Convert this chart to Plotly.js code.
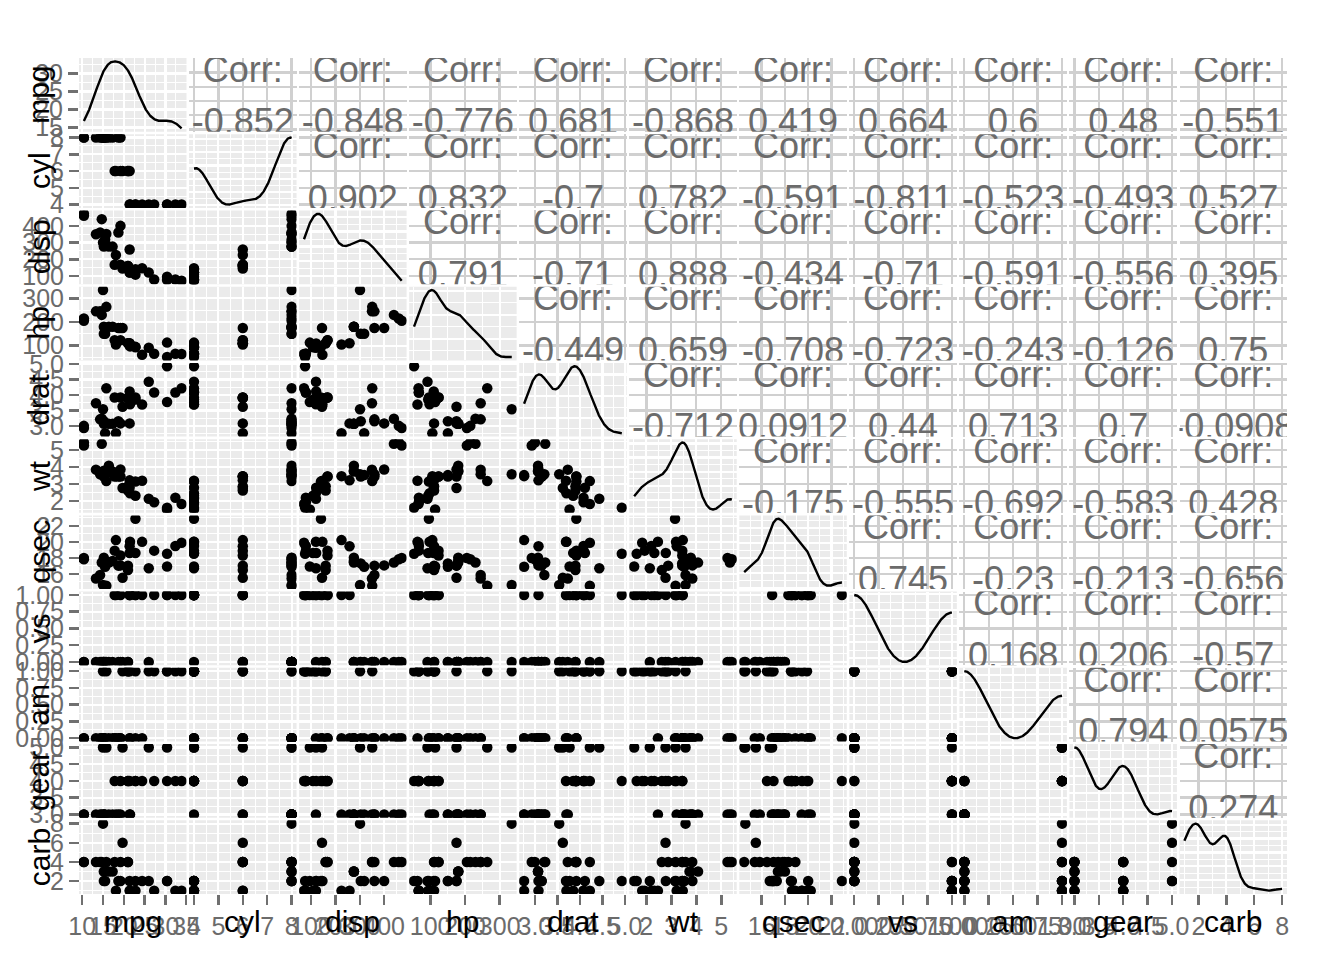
<!DOCTYPE html>
<html><head><meta charset="utf-8">
<script src="https://cdn.plot.ly/plotly-3.0.1.min.js"></script>
<style>html,body{margin:0;padding:0;background:#fff}</style>
</head><body><div id="chart" style="width:1344px;height:960px"></div>
<script>
// ---- data (mtcars) ----
const variables = ["mpg","cyl","disp","hp","drat","wt","qsec","vs","am","gear","carb"];
const mpg  = [21.0,21.0,22.8,21.4,18.7,18.1,14.3,24.4,22.8,19.2,17.8,16.4,17.3,15.2,10.4,10.4,14.7,32.4,30.4,33.9,21.5,15.5,15.2,13.3,19.2,27.3,26.0,30.4,15.8,19.7,15.0,21.4];
const cyl  = [6,6,4,6,8,6,8,4,4,6,6,8,8,8,8,8,8,4,4,4,4,8,8,8,8,4,4,4,8,6,8,4];
const disp = [160,160,108,258,360,225,360,146.7,140.8,167.6,167.6,275.8,275.8,275.8,472,460,440,78.7,75.7,71.1,120.1,318,304,350,400,79,120.3,95.1,351,145,301,121];
const hp   = [110,110,93,110,175,105,245,62,95,123,123,180,180,180,205,215,230,66,52,65,97,150,150,245,175,66,91,113,264,175,335,109];
const drat = [3.90,3.90,3.85,3.08,3.15,2.76,3.21,3.69,3.92,3.92,3.92,3.07,3.07,3.07,2.93,3.00,3.23,4.08,4.93,4.22,3.70,2.76,3.15,3.73,3.08,4.08,4.43,3.77,4.22,3.62,3.54,4.11];
const wt   = [2.620,2.875,2.320,3.215,3.440,3.460,3.570,3.190,3.150,3.440,3.440,4.070,3.730,3.780,5.250,5.424,5.345,2.200,1.615,1.835,2.465,3.520,3.435,3.840,3.845,1.935,2.140,1.513,3.170,2.770,3.570,2.780];
const qsec = [16.46,17.02,18.61,19.44,17.02,20.22,15.84,20.00,22.90,18.30,18.90,17.40,17.60,18.00,17.98,17.82,17.42,19.47,18.52,19.90,20.01,16.87,17.30,15.41,17.05,18.90,16.70,16.90,14.50,15.50,14.60,18.60];
const vs   = [0,0,1,1,0,1,0,1,1,1,1,0,0,0,0,0,0,1,1,1,1,0,0,0,0,1,0,1,0,0,0,1];
const am   = [1,1,1,0,0,0,0,0,0,0,0,0,0,0,0,0,0,1,1,1,0,0,0,0,0,1,1,1,1,1,1,1];
const gear = [4,4,4,3,3,3,3,4,4,4,4,3,3,3,3,3,3,4,4,4,3,3,3,3,3,4,5,5,5,5,5,4];
const carb = [4,4,1,1,2,1,4,2,2,4,4,3,3,3,4,4,4,1,2,1,1,2,2,4,2,1,2,2,4,6,8,2];

// tick labels (ggplot breaks)
const mpgTicks  = ["10","15","20","25","30","35"];
const cylTicks  = ["4","5","6","7","8"];
const dispTicks = ["100","200","300","400"];
const hpTicks   = ["100","200","300"];
const dratTicks = ["3.0","3.5","4.0","4.5","5.0"];
const wtTicks   = ["2","3","4","5"];
const qsecTicks = ["16","18","20","22"];
const vsTicks   = ["0.00","0.25","0.50","0.75","1.00"];
const amTicks   = ["0.00","0.25","0.50","0.75","1.00"];
const gearTicks = ["3.0","3.5","4.0","4.5","5.0"];
const carbTicks = ["2","4","6","8"];
const mpgDiagLabels = ["15","20","25","30"];

// correlation labels, upper triangle, row by row
const corrRow1  = ["-0.852","-0.848","-0.776","0.681","-0.868","0.419","0.664","0.6","0.48","-0.551"];
const corrRow2  = ["0.902","0.832","-0.7","0.782","-0.591","-0.811","-0.523","-0.493","0.527"];
const corrRow3  = ["0.791","-0.71","0.888","-0.434","-0.71","-0.591","-0.556","0.395"];
const corrRow4  = ["-0.449","0.659","-0.708","-0.723","-0.243","-0.126","0.75"];
const corrRow5  = ["-0.712","0.0912","0.44","0.713","0.7","-0.0908"];
const corrRow6  = ["-0.175","-0.555","-0.692","-0.583","0.428"];
const corrRow7  = ["0.745","-0.23","-0.213","-0.656"];
const corrRow8  = ["0.168","0.206","-0.57"];
const corrRow9  = ["0.794","0.0575"];
const corrRow10 = ["0.274"];

// ---- assembly ----
const cols = [mpg,cyl,disp,hp,drat,wt,qsec,vs,am,gear,carb];
const tickLists = [mpgTicks,cylTicks,dispTicks,hpTicks,dratTicks,wtTicks,qsecTicks,vsTicks,amTicks,gearTicks,carbTicks];
const corrRows = [corrRow1,corrRow2,corrRow3,corrRow4,corrRow5,corrRow6,corrRow7,corrRow8,corrRow9,corrRow10];
const N = variables.length;

const FONT = "Liberation Sans, Arial, Helvetica, sans-serif";
const PW = 1208, PH = 836, GX = 2.55, GY = 2.54;
const TICKCOL = "#707070", LABCOL = "#6B6B6B", PANEL = "#EBEBEB", UGRID = "#D0D0D0";
const TICKSIZE = 25, TITLESIZE = 30, CORRSIZE = 36;

function colDomain(j){ const p=(PW+GX)/N; return [j*p/PW, Math.min(1,(j*p+p-GX)/PW)]; }
function rowDomain(i){ const p=(PH+GY)/N; const top=PH-i*p; return [Math.max(0,(top-(p-GY))/PH), top/PH]; }
function expand(lo,hi){ const d=hi-lo; return [lo-0.05*d, hi+0.05*d]; }
function rangeOf(v){ return expand(Math.min(...v), Math.max(...v)); }
function mids(vals){ const s=vals[1]-vals[0]; const out=[vals[0]-s/2]; vals.forEach(v=>out.push(v+s/2)); return out; }

// density (stat_density: gaussian kernel, bw.nrd0, 512 points over data range)
function quant(sorted,p){ const h=(sorted.length-1)*p, lo=Math.floor(h); const hi=Math.min(lo+1,sorted.length-1); return sorted[lo]+(h-lo)*(sorted[hi]-sorted[lo]); }
function bwNrd0(x){
  const n=x.length, m=x.reduce((a,b)=>a+b,0)/n;
  const sd=Math.sqrt(x.reduce((a,b)=>a+(b-m)*(b-m),0)/(n-1));
  const s=[...x].sort((a,b)=>a-b); const iqr=quant(s,0.75)-quant(s,0.25);
  let lo=Math.min(sd, iqr/1.34); if(!(lo>0)) lo = sd || Math.abs(x[0]) || 1;
  return 0.9*lo*Math.pow(n,-0.2);
}
function density(x){
  const b=bwNrd0(x), n=x.length, mn=Math.min(...x), mx=Math.max(...x);
  const gx=[], gy=[];
  for(let k=0;k<512;k++){
    const t=mn+(mx-mn)*k/511; let s=0;
    for(const xi of x){ const z=(t-xi)/b; s+=Math.exp(-0.5*z*z); }
    gx.push(t); gy.push(s/(n*b*Math.sqrt(2*Math.PI)));
  }
  return {x:gx,y:gy};
}
function niceStep(span){
  const raw=span/4, mag=Math.pow(10,Math.floor(Math.log10(raw))), r=raw/mag;
  const m = r<1.5?1:(r<3?2:(r<7?5:10)); return m*mag;
}

const traces=[], shapes=[], annotations=[];
const layout = {
  width:1344, height:960, showlegend:false,
  margin:{l:79,r:57,t:58,b:66,pad:0},
  paper_bgcolor:"#ffffff", plot_bgcolor:"#ffffff",
  font:{family:FONT, color:LABCOL},
  hovermode:false
};

const ranges = cols.map(rangeOf);

// column x axes (lower + diagonal): x1..x11
for(let j=0;j<N;j++){
  const tv = tickLists[j].map(Number);
  layout["xaxis"+(j+1)] = {
    domain: colDomain(j), range: ranges[j], anchor:"free", position:0,
    tickmode:"array", tickvals: tv, ticktext: tickLists[j], tickangle:0,
    ticks:"outside", ticklen:10, tickwidth:2.5, tickcolor:TICKCOL,
    tickfont:{size:TICKSIZE, color:LABCOL, family:FONT},
    showgrid:true, gridcolor:"#ffffff", gridwidth:2.2,
    minor:{tickmode:"array", tickvals: mids(tv), showgrid:true, gridcolor:"#ffffff", gridwidth:1},
    zeroline:false, showline:false, fixedrange:true
  };
}
// upper x axes: x12..x21 (columns 2..11)
for(let j=1;j<N;j++){
  const tv = tickLists[j].map(Number);
  layout["xaxis"+(10+j+1)] = {
    domain: colDomain(j), range: ranges[j], anchor:"free", position:0,
    tickmode:"array", tickvals: tv, showticklabels:false, ticks:"",
    showgrid:true, gridcolor:UGRID, gridwidth:2.4,
    zeroline:false, showline:false, fixedrange:true
  };
}
// lower row y axes: y12..y21 (rows 2..11)
for(let i=1;i<N;i++){
  const tv = tickLists[i].map(Number);
  layout["yaxis"+(11+i)] = {
    domain: rowDomain(i), range: ranges[i], anchor:"free", position:0,
    tickmode:"array", tickvals: tv, ticktext: tickLists[i], tickangle:0,
    ticks:"outside", ticklen:10, tickwidth:2.5, tickcolor:TICKCOL,
    tickfont:{size:TICKSIZE, color:LABCOL, family:FONT},
    showgrid:true, gridcolor:"#ffffff", gridwidth:2.2,
    minor:{tickmode:"array", tickvals: mids(tv), showgrid:true, gridcolor:"#ffffff", gridwidth:1},
    zeroline:false, showline:false, fixedrange:true
  };
}
// upper row y axes: y22..y31 (rows 1..10)
for(let i=0;i<N-1;i++){
  const tv = tickLists[i].map(Number);
  layout["yaxis"+(22+i)] = {
    domain: rowDomain(i), range: ranges[i], anchor:"free", position:0,
    tickmode:"array", tickvals: tv, showticklabels:false, ticks:"",
    showgrid:true, gridcolor:UGRID, gridwidth:2.4,
    zeroline:false, showline:false, fixedrange:true
  };
}
// diagonal density y axes: y1..y11
for(let i=0;i<N;i++){
  const d = density(cols[i]);
  const dr = expand(Math.min(...d.y), Math.max(...d.y));
  const ax = {
    domain: rowDomain(i), range: dr, anchor:"x"+(i+1),
    showgrid:true, gridcolor:"#ffffff", gridwidth:2.2,
    zeroline:false, showline:false, fixedrange:true
  };
  if(i===0){
    // left labels of the top-left panel show the mpg scale on the density panel
    const a=13.83, b=34.29;
    const lv = mpgDiagLabels.map(Number);
    const tv = lv.map(v => dr[0] + (v-a)/(b-a)*(dr[1]-dr[0]));
    Object.assign(ax, {tickmode:"array", tickvals: tv, ticktext: mpgDiagLabels, tickangle:0,
      ticks:"outside", ticklen:10, tickwidth:2.5, tickcolor:TICKCOL,
      tickfont:{size:TICKSIZE, color:LABCOL, family:FONT},
      minor:{tickmode:"array", tickvals: mids(tv), showgrid:true, gridcolor:"#ffffff", gridwidth:1}});
  } else {
    const st = niceStep(dr[1]-dr[0]);
    const tv=[]; for(let v=Math.ceil(dr[0]/st)*st; v<=dr[1]; v+=st) tv.push(v);
    Object.assign(ax, {tickmode:"array", tickvals: tv, showticklabels:false, ticks:"",
      minor:{tickmode:"array", tickvals: mids(tv.length>1?tv:[tv[0],tv[0]+st]), showgrid:true, gridcolor:"#ffffff", gridwidth:1}});
  }
  layout["yaxis"+(i+1)] = ax;
  traces.push({type:"scatter", mode:"lines", x:d.x, y:d.y, xaxis:"x"+(i+1), yaxis:"y"+(i+1),
    line:{color:"#000000", width:2.4}, hoverinfo:"skip"});
  shapes.push({type:"rect", xref:"x"+(i+1)+" domain", yref:"y"+(i+1)+" domain", x0:0,x1:1,y0:0,y1:1,
    fillcolor:PANEL, line:{width:0}, layer:"below"});
}
// lower scatter panels
for(let i=1;i<N;i++){
  for(let j=0;j<i;j++){
    traces.push({type:"scatter", mode:"markers", x:cols[j], y:cols[i], xaxis:"x"+(j+1), yaxis:"y"+(11+i),
      marker:{color:"#000000", size:10.5, line:{width:0}}, hoverinfo:"skip"});
    shapes.push({type:"rect", xref:"x"+(j+1)+" domain", yref:"y"+(11+i)+" domain", x0:0,x1:1,y0:0,y1:1,
      fillcolor:PANEL, line:{width:0}, layer:"below"});
  }
}
// upper correlation text panels
for(let i=0;i<N-1;i++){
  const ry = ranges[i];
  for(let j=i+1;j<N;j++){
    const rx = ranges[j];
    const cx = (rx[0]+rx[1])/2;
    traces.push({type:"scatter", mode:"text", xaxis:"x"+(10+j+1), yaxis:"y"+(22+i),
      x:[cx,cx], y:[ry[0]+0.80*(ry[1]-ry[0]), ry[0]+0.085*(ry[1]-ry[0])],
      text:["Corr:", corrRows[i][j-i-1]], textposition:"middle center",
      textfont:{size:CORRSIZE, color:LABCOL, family:FONT}, hoverinfo:"skip", cliponaxis:true});
  }
}
// axis titles (ggmatrix labels)
for(let k=0;k<N;k++){
  const cd = colDomain(k), rd = rowDomain(k);
  annotations.push({text:variables[k], xref:"paper", yref:"paper", x:(cd[0]+cd[1])/2, y:-27/PH,
    xanchor:"center", yanchor:"middle", showarrow:false, font:{size:TITLESIZE, color:"#000000", family:FONT}});
  annotations.push({text:variables[k], xref:"paper", yref:"paper", x:-40/PW, y:(rd[0]+rd[1])/2,
    xanchor:"center", yanchor:"middle", textangle:-90, showarrow:false, font:{size:TITLESIZE, color:"#000000", family:FONT}});
}
layout.shapes = shapes;
layout.annotations = annotations;
Plotly.newPlot("chart", traces, layout, {displayModeBar:false, staticPlot:true});
</script>
</body></html>
